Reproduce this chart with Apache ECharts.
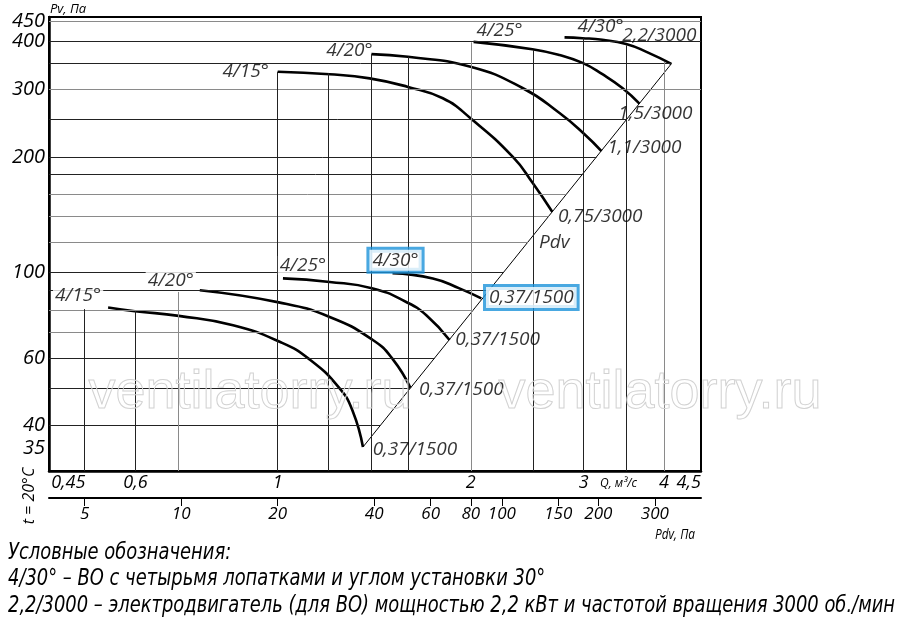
<!DOCTYPE html>
<html>
<head>
<meta charset="utf-8">
<script src="https://cdn.jsdelivr.net/npm/echarts@6.0.0/dist/echarts.min.js"></script>
<style>
html,body{margin:0;padding:0;background:#ffffff;}
#chart{width:900px;height:624px;}
</style>
</head>
<body>
<div id="chart"></div>
<script>
// ---------- data (Q in m3/s, Pv in Pa) ----------
const angleLabels = ['4/15°', '4/20°', '4/25°', '4/30°'];
const motors3000 = ['0,75/3000', '1,1/3000', '1,5/3000', '2,2/3000'];
const motors1500 = ['0,37/1500', '0,37/1500', '0,37/1500', '0,37/1500'];

// 3000 rpm family
const c15_3000 = [[1.0,333],[1.205,328],[1.391,320],[1.596,304],[1.809,284],[1.998,252],[2.326,200],[2.498,171],[2.679,144]];
const c20_3000 = [[1.40,370],[1.596,364],[1.998,343],[2.408,302],[2.75,260],[3.008,229],[3.197,207]];
const c25_3000 = [[2.02,398],[2.495,381],[2.75,368],[2.987,351],[3.208,328],[3.446,302],[3.664,275]];
const c30_3000 = [[2.80,409],[2.987,407],[3.208,403],[3.493,393],[3.757,375],[4.108,349]];
// 1500 rpm family
const c15_1500 = [[0.544,81.2],[0.599,79.4],[0.701,77.2],[0.852,73.0],[1.007,66.1],[1.121,59.5],[1.249,50.0],[1.31,43.5],[1.358,35.2]];
const c20_1500 = [[0.756,90.0],[1.004,83.7],[1.205,76.7],[1.407,66.8],[1.512,59.5],[1.61,50.2]];
const c25_1500 = [[1.019,96.6],[1.205,94.6],[1.407,91.0],[1.586,83.9],[1.705,77.5],[1.853,66.8]];
const c30_1500 = [[1.51,99.7],[1.745,96.6],[1.92,91.0],[2.077,85.7]];

// tick labels
const yTicks = [35, 40, 60, 100, 200, 300, 400, 450];
const qTicks = [0.45, 0.6, 1, 2, 3, 4, 4.5];
const pdvTicks = [5, 10, 20, 40, 60, 80, 100, 150, 200, 300];

// grid lines (values)
const hGrid = [40, 50, 60, 70, 80, 90, 100, 120, 140, 160, 180, 200, 250, 300, 350, 400, 450];
const hGridGray = [70, 80, 120, 140, 160, 300, 450];
const hGridFull = [300, 400, 450];
const vGridQ = [0.5, 0.6, 0.7, 1.0, 1.2, 1.4, 1.6, 2.0, 2.5, 3.0, 3.5, 4.0];
const vGridTop = [80.4, 79.5, 89.1, 333, 330, 370, 364, 397, 379, 407, 390, 353];
const vGridGray = [0.7, 2.0, 4.0];

// axis ranges
const qRange = [0.44, 4.57];
const pvRange = [30.5, 462];
const pdvRange = [3.87, 418];

// texts
const legendLines = [
  'Условные обозначения:',
  '4/30° – ВО с четырьмя лопатками и углом установки 30°',
  '2,2/3000 – электродвигатель (для ВО) мощностью 2,2 кВт и частотой вращения 3000 об./мин'
];

// ---------- build ----------
const upper = [c15_3000, c20_3000, c25_3000, c30_3000];
const lower = [c15_1500, c20_1500, c25_1500, c30_1500];
const first = a => a[0];
const last = a => a[a.length - 1];

const diagA = last(c15_1500), diagB = last(c30_3000);
const lg = Math.log10;
function diagQ(pv) {
  const t = (lg(pv) - lg(diagA[1])) / (lg(diagB[1]) - lg(diagA[1]));
  return Math.pow(10, lg(diagA[0]) + t * (lg(diagB[0]) - lg(diagA[0])));
}

const DARK = '#222', GRAY = '#8a8a8a';
const gridLines = [];
hGrid.forEach(v => {
  const qEnd = hGridFull.indexOf(v) >= 0 ? qRange[1] : Math.min(qRange[1], diagQ(v));
  gridLines.push([{coord: [qRange[0], v], lineStyle: {color: hGridGray.indexOf(v) >= 0 ? GRAY : DARK}}, {coord: [qEnd, v]}]);
});
vGridQ.forEach((q, i) => {
  gridLines.push([{coord: [q, vGridTop[i]], lineStyle: {color: vGridGray.indexOf(q) >= 0 ? GRAY : DARK}}, {coord: [q, pvRange[0]]}]);
});

const FONT = '"Open Sans", "DejaVu Sans", sans-serif';
const BLUE = '#1b92d9';

const curveSeries = upper.concat(lower).map(d => ({
  type: 'line', data: d, smooth: 0.5, symbol: 'none', silent: true,
  lineStyle: {color: '#000', width: 2.6}, z: 4, animation: false
}));

const angleOff3000 = [[-32, 0], [-22, -4], [26, -11], [36, -11]];
const motorOff3000 = [[48, 5], [43, -4], [16, 10], [-12, -28]];
const angleOff1500 = [[-30, -12], [-29, -10], [20, -13], [3, -13]];
const motorOff1500 = [[52, 3], [51, 2], [48, 0], [50, -1]];

const labelData = [];
upper.forEach((c, i) => {
  labelData.push({name: angleLabels[i], value: first(c), label: {offset: angleOff3000[i]}});
  labelData.push({name: motors3000[i], value: last(c), label: {offset: motorOff3000[i]}});
});
labelData.push({name: 'Pdv', value: last(c15_3000), label: {offset: [2, 31]}});
const whiteBox = {backgroundColor: '#fff', padding: [0, 2]};
const blueBox = {backgroundColor: '#fff', borderColor: BLUE, borderWidth: 3, padding: [1, 3]};
lower.forEach((c, i) => {
  const boxA = i === 3 ? blueBox : whiteBox;
  labelData.push({name: angleLabels[i], value: first(c), label: Object.assign({offset: angleOff1500[i]}, boxA)});
  const boxM = i === 3 ? blueBox : {};
  labelData.push({name: motors1500[i], value: last(c), label: Object.assign({offset: motorOff1500[i]}, boxM)});
});

const fmtDec = v => String(+(+v).toFixed(2)).replace('.', ',');

// condensed legend: squeeze the longest line to the width it takes in the reference
const LEG_FONT = 'italic 23px "DejaVu Sans", sans-serif';
const mctx = document.createElement('canvas').getContext('2d');
mctx.font = LEG_FONT;
const legScale = 887 / mctx.measureText(legendLines[2]).width;
const legendY = [553, 579, 606];
const legendGraphics = legendLines.map((t, i) => ({
  type: 'text', x: 8, y: legendY[i], scaleX: legScale, silent: true,
  style: {text: t, font: LEG_FONT, fill: '#000', verticalAlign: 'middle'}
}));

const yLabelStyle = {margin: 4, color: '#000', fontSize: 20, fontWeight: 500, fontStyle: 'italic', fontFamily: FONT,
  showMinLabel: true, showMaxLabel: true, hideOverlap: false, formatter: v => String(Math.round(v))};

const option = {
  animation: false,
  backgroundColor: '#fff',
  grid: {left: 49, right: 199, top: 17, bottom: 153, show: true, borderColor: '#000', borderWidth: 2, backgroundColor: 'transparent'},
  xAxis: [
    {
      type: 'log', min: qRange[0], max: qRange[1], position: 'bottom',
      axisLine: {show: true, lineStyle: {color: '#000', width: 2.5}},
      axisTick: {show: false}, splitLine: {show: false},
      axisLabel: {
        customValues: qTicks, margin: 3, color: '#000', fontSize: 18, fontWeight: 500, fontStyle: 'italic', fontFamily: FONT,
        showMinLabel: true, showMaxLabel: true,
        formatter: v => {
          const s = fmtDec(v);
          if (Math.abs(v - 0.45) < 1e-6) return '{l|' + s + '}';
          if (Math.abs(v - 4.5) < 1e-6) return '{r|' + s + '}';
          return s;
        },
        rich: {
          l: {padding: [0, 0, 0, 26], fontSize: 18, fontWeight: 500, fontStyle: 'italic', fontFamily: FONT, color: '#000'},
          r: {padding: [0, 16, 0, 0], fontSize: 18, fontWeight: 500, fontStyle: 'italic', fontFamily: FONT, color: '#000'}
        }
      }
    },
    {
      type: 'log', min: pdvRange[0], max: pdvRange[1], position: 'bottom', offset: 27,
      axisLine: {show: true, lineStyle: {color: '#000', width: 2}},
      axisTick: {show: true, customValues: pdvTicks, length: 8, lineStyle: {color: '#000', width: 1}},
      splitLine: {show: false},
      axisLabel: {customValues: pdvTicks, margin: 8, color: '#000', fontSize: 17, fontWeight: 500, fontStyle: 'italic', fontFamily: FONT,
        showMinLabel: true, showMaxLabel: true, hideOverlap: false, formatter: v => String(Math.round(v))}
    }
  ],
  yAxis: [
    {
      type: 'log', min: pvRange[0], max: pvRange[1],
      axisLine: {show: true, lineStyle: {color: '#000', width: 2.5}},
      axisTick: {show: false}, splitLine: {show: false},
      axisLabel: Object.assign({customValues: yTicks.slice(0, -1)}, yLabelStyle)
    },
    {
      // second copy of the same scale, carrying only the top tick label so it is not dropped as overlapping
      type: 'log', min: pvRange[0], max: pvRange[1], position: 'left',
      axisLine: {show: false}, axisTick: {show: false}, splitLine: {show: false},
      axisLabel: Object.assign({customValues: yTicks.slice(-1)}, yLabelStyle)
    }
  ],
  series: [
    {
      type: 'line', data: [diagA, diagB], symbol: 'none', silent: true, z: 3,
      lineStyle: {color: '#000', width: 1},
      markLine: {
        silent: true, symbol: ['none', 'none'], label: {show: false}, animation: false,
        lineStyle: {type: 'solid', width: 1},
        emphasis: {disabled: true},
        data: gridLines
      }
    }
  ].concat(curveSeries).concat([
    {
      type: 'scatter', data: labelData, symbolSize: 1, silent: true, z: 10,
      itemStyle: {color: 'rgba(0,0,0,0)'},
      label: {show: true, position: 'inside', formatter: '{b}', color: '#000', fontSize: 19, fontWeight: 500,
        fontStyle: 'italic', fontFamily: FONT}
    }
  ]),
  graphic: [
    {type: 'text', x: 50, y: 9, silent: true, style: {text: 'Pv, Па', font: 'italic 13px ' + FONT, fill: '#000', verticalAlign: 'middle'}},
    {type: 'text', x: 600, y: 484, silent: true, style: {text: 'Q, м³/с', font: 'italic 12px ' + FONT, fill: '#000', verticalAlign: 'middle'}},
    {type: 'text', x: 655, y: 535, silent: true, scaleX: 0.85, style: {text: 'Pdv, Па', font: 'italic 14px ' + FONT, fill: '#000', verticalAlign: 'middle'}},
    {type: 'text', x: 29, y: 496, rotation: Math.PI / 2, silent: true, style: {text: 't = 20°C', font: 'italic 16px ' + FONT, fill: '#000', align: 'center', verticalAlign: 'middle'}},
    {type: 'text', x: 250, y: 393, z: 20, silent: true, style: {text: 'ventilatorry.ru', font: '54px "Liberation Sans", sans-serif', fill: 'rgba(255,255,255,0)', stroke: '#d2d2d2', lineWidth: 1, align: 'center', verticalAlign: 'middle'}},
    {type: 'text', x: 660, y: 393, z: 20, silent: true, style: {text: 'ventilatorry.ru', font: '54px "Liberation Sans", sans-serif', fill: 'rgba(255,255,255,0)', stroke: '#d2d2d2', lineWidth: 1, align: 'center', verticalAlign: 'middle'}}
  ].concat(legendGraphics)
};

const chart = echarts.init(document.getElementById('chart'), null, {renderer: 'canvas'});
chart.setOption(option);
</script>
</body>
</html>
